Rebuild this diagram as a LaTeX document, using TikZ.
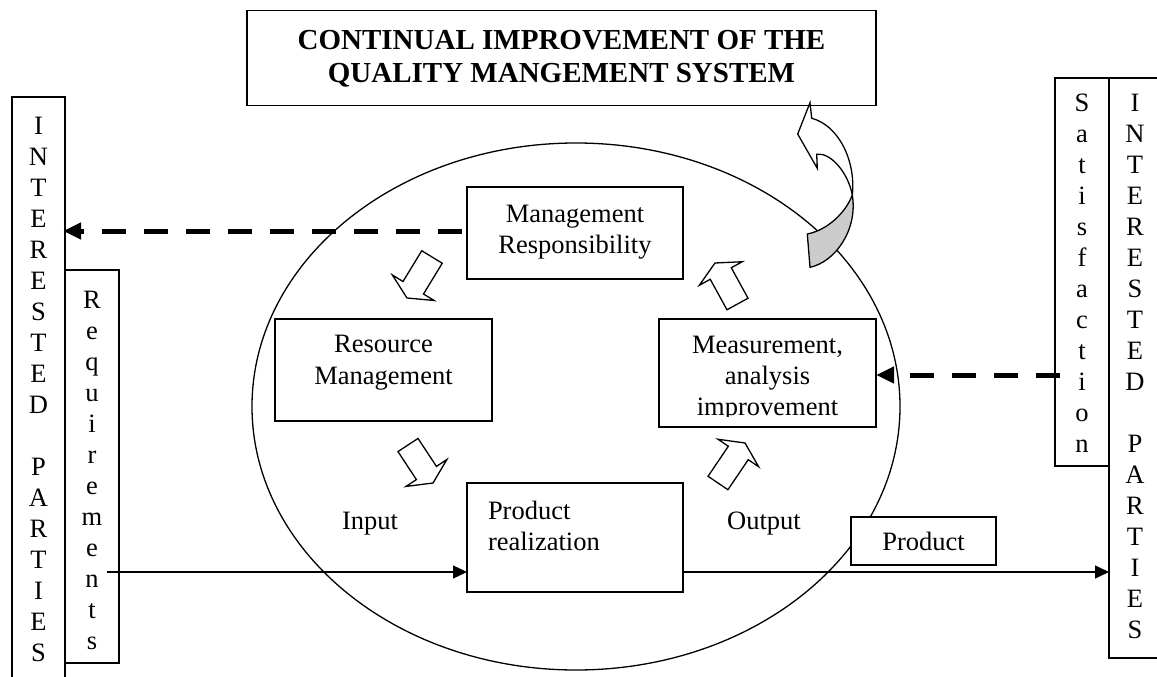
\documentclass[tikz,border=0pt]{standalone}
\usepackage{fontspec}
\setmainfont{Liberation Serif}
\usetikzlibrary{arrows.meta,calc,shapes.geometric}
\newcommand\hollowblock[2]{%
  \coordinate (hbT) at (#1);
  \coordinate (hbP) at (#2);
  \coordinate (hbB) at ($(hbP)!12pt!(hbT)$);
  \draw[hollow] ($(hbT)!12pt!90:(hbP)$) -- ($(hbB)!12pt!90:(hbP)$) -- ($(hbB)!24.5pt!90:(hbP)$) -- (hbP)
     -- ($(hbB)!24.5pt!-90:(hbP)$) -- ($(hbB)!12pt!-90:(hbP)$) -- ($(hbT)!12pt!-90:(hbP)$) -- cycle;}
\begin{document}
\begin{tikzpicture}[x=1pt,y=-1pt,
  every node/.style={inner sep=0pt,outer sep=0pt},
  frame/.style={draw=black,line width=1.3pt,fill=white,rectangle},
  txt/.style={font=\fontsize{26.5}{31}\selectfont,anchor=base},
  btxt/.style={font=\fontsize{29}{33}\selectfont\bfseries,anchor=base},
  flow/.style={draw=black,line width=1.3pt,-{Triangle[length=14pt,width=13pt]}},
  feedback/.style={draw=black,line width=5pt,dash pattern=on 24pt off 18pt,-{Triangle[length=18pt,width=16pt]}},
  hollow/.style={draw=black,line width=1.3pt,fill=white,line join=miter},
]
\useasboundingbox (0,0) rectangle (1157,677);
\fill[white] (0,0) rectangle (1157,677);
\clip (0,0) rectangle (1157,677);

% process cycle
\node[draw=black,line width=1.3pt,ellipse,minimum width=648pt,minimum height=527pt] (cycle) at (576,406.5) {};

% banner
\node[frame,minimum width=629pt,minimum height=95pt] (banner) at (561.5,58) {};
\node[btxt] (banner1) at (561.5,50) {CONTINUAL IMPROVEMENT OF THE};
\node[btxt] (banner2) at (561.5,83) {QUALITY MANGEMENT SYSTEM};

% side columns
\node[frame,minimum width=53pt,minimum height=593pt] (lbox) at (38.5,393.5) {};
\node[frame,minimum width=54pt,minimum height=393pt] (req) at (92,466.5) {};
\node[frame,minimum width=54pt,minimum height=388pt] (sat) at (1082,272) {};
\node[frame,minimum width=61pt,minimum height=580pt] (rbox) at (1139.5,368) {};
\foreach \l [count=\i from 0] in {I,N,T,E,R,E,S,T,E,D,{},P,A,R,T,I,E,S}
  \node[txt] (lt\i) at (38.5,{134+31*\i}) {\l};
\foreach \l [count=\i from 0] in {R,e,q,u,i,r,e,m,e,n,t,s}
  \node[txt] (rq\i) at (92,{308+31*\i}) {\l};
\foreach \l [count=\i from 0] in {S,a,t,i,s,f,a,c,t,i,o,n}
  \node[txt] (st\i) at (1082,{111+31*\i}) {\l};
\foreach \l [count=\i from 0] in {I,N,T,E,R,E,S,T,E,D,{},P,A,R,T,I,E,S}
  \node[txt] (rt\i) at (1135,{111+31*\i}) {\l};

% process boxes
\node[frame,minimum width=216pt,minimum height=92pt] (mr) at (575,233) {};
\node[txt] (mr1) at (575,222) {Management};
\node[txt] (mr2) at (575,253) {Responsibility};

\node[frame,minimum width=217pt,minimum height=102pt] (rm) at (383.5,370) {};
\node[txt] (rm1) at (383.5,352) {Resource};
\node[txt] (rm2) at (383.5,384) {Management};

\node[frame,minimum width=217pt,minimum height=108pt] (ma) at (767.5,373) {};
\begin{scope}
  \clip (659,319) rectangle (876,416);
  \node[txt] (ma1) at (767.5,353) {Measurement,};
  \node[txt] (ma2) at (767.5,384) {analysis};
  \node[txt] (ma3) at (767.5,415) {improvement};
\end{scope}

\node[frame,minimum width=216pt,minimum height=109pt] (pr) at (575,537.5) {};
\node[txt,anchor=base west] (pr1) at (488,519) {Product};
\node[txt,anchor=base west] (pr2) at (488,550) {realization};

\node[frame,minimum width=145pt,minimum height=48pt] (prod) at (923.5,541) {};
\node[txt] (prod1) at (923.5,550) {Product};

\node[txt] (input) at (370,529) {Input};
\node[txt] (output) at (764,529) {Output};

% flows
\coordinate (inlet) at ($(pr.west)+(0,34.5)$);
\coordinate (outlet) at ($(pr.east)+(0,34.5)$);
\draw[flow] ($(req.east |- inlet)+(-12,0)$) -- (inlet);
\draw[flow] (outlet) -- (outlet -| rbox.west);
\draw[feedback] ($(mr.west)+(-5,-2)$) -- ($(mr.west -| lbox.east)+(-2,-2)$);
\draw[feedback] ($(ma.east -| sat.west)+(5,2)$) -- ($(ma.east)+(0,2)$);

% hollow block arrows
\hollowblock{432,257}{407,298}
\hollowblock{408,445}{433,483}
\hollowblock{718,483}{745,443}
\hollowblock{737.5,304}{715,263}

% curved arrow to banner
\draw[line width=1.3pt,fill=gray!40,line join=round] (852.3,195) .. controls (858,230) and (835,262) .. (810,267.3)
   -- (807.3,234) .. controls (828,230) and (846,212) .. (852.3,195) -- cycle;
\draw[hollow] (810,102.7) -- (811.7,118.3) .. controls (838,125) and (856,160) .. (852.3,195)
   .. controls (848,172) and (830,152) .. (816.7,154.3) -- (817.3,168.3) -- (797.7,134) -- cycle;
\end{tikzpicture}
\end{document}
